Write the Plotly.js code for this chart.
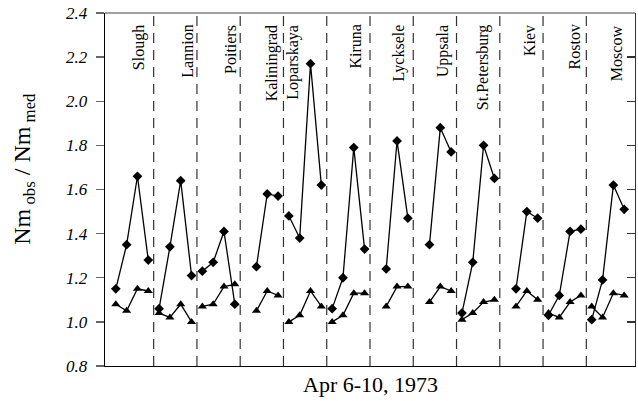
<!DOCTYPE html>
<html><head><meta charset="utf-8">
<script src="https://cdn.plot.ly/plotly-3.0.1.min.js"></script>
<style>html,body{margin:0;padding:0;background:#fff}#chart{width:638px;height:401px}</style>
</head><body><div id="chart"></div>
<script>
// ---- data ----
const stations = ['Slough','Lannion','Poitiers','Kaliningrad','Loparskaya','Kiruna',
                  'Lycksele','Uppsala','St.Petersburg','Kiev','Rostov','Moscow'];
const daysPerStation = 4;
// diamond series (4 values per station, null = missing)
const diamondRatio = [
  1.15,1.35,1.66,1.28,   // Slough
  1.06,1.34,1.64,1.21,   // Lannion
  1.23,1.27,1.41,1.08,   // Poitiers
  null,1.25,1.58,1.57,   // Kaliningrad
  1.48,1.38,2.17,1.62,   // Loparskaya
  1.06,1.20,1.79,1.33,   // Kiruna
  null,1.24,1.82,1.47,   // Lycksele
  null,1.35,1.88,1.77,   // Uppsala
  1.04,1.27,1.80,1.65,   // St.Petersburg
  null,1.15,1.50,1.47,   // Kiev
  1.03,1.12,1.41,1.42,   // Rostov
  1.01,1.19,1.62,1.51    // Moscow
];
// triangle series
const triangleRatio = [
  1.08,1.05,1.15,1.14,
  1.04,1.02,1.08,1.00,
  1.07,1.08,1.16,1.17,
  null,1.05,1.14,1.12,
  1.00,1.03,1.14,1.07,
  1.00,1.03,1.13,1.13,
  null,1.07,1.16,1.16,
  null,1.09,1.16,1.14,
  1.01,1.04,1.09,1.10,
  null,1.07,1.14,1.10,
  1.04,1.02,1.09,1.12,
  1.07,1.02,1.13,1.12
];
const yTickVals = [0.8,1.0,1.2,1.4,1.6,1.8,2.0,2.2,2.4];
const yTickText = ['0.8','1.0','1.2','1.4','1.6','1.8','2.0','2.2','2.4'];
const xTitle = 'Apr 6-10, 1973';
const yTitle = 'Nm<sub> obs</sub> / Nm<sub> med</sub>';

// ---- layout config (positions, not data) ----
const labelOffset = [2.22,2.61,2.61,2.39,0.41,2.18,2.2,2.2,2.02,2.26,2.36,2.36];
const serif = 'Liberation Serif';

function withGaps(vals){
  const xs = [], ys = [];
  for (let g = 0; g < stations.length; g++) {
    for (let k = 0; k < daysPerStation; k++) {
      const i = g*daysPerStation + k;
      xs.push(i); ys.push(vals[i]);
    }
    if (g < stations.length - 1) { xs.push(g*daysPerStation + daysPerStation - 0.5); ys.push(null); }
  }
  return {xs, ys};
}
const d = withGaps(diamondRatio), t = withGaps(triangleRatio);

const traces = [
  {x: d.xs, y: d.ys, type:'scatter', mode:'lines+markers', connectgaps:false,
   line:{color:'#000', width:1.3}, marker:{symbol:'diamond', size:7.5, color:'#000'},
   showlegend:false, hoverinfo:'skip'},
  {x: t.xs, y: t.ys, type:'scatter', mode:'lines+markers', connectgaps:false, yaxis:'y2',
   line:{color:'#000', width:1.3}, marker:{symbol:'triangle-up', size:8, color:'#000'},
   showlegend:false, hoverinfo:'skip'}
];

const shapes = [];
for (let g = 0; g < stations.length - 1; g++) {
  const xs = g*daysPerStation + daysPerStation - 0.5;
  shapes.push({type:'line', xref:'x', yref:'paper', x0:xs, x1:xs, y0:0, y1:1,
               line:{color:'#333', width:1.2, dash:'10px,7px'}});
}
shapes.push({type:'line', xref:'paper', yref:'paper', x0:0, x1:1, y0:1, y1:1,
             line:{color:'#808080', width:1.5}});

const annotations = stations.map((s, g) => ({
  text: s, x: g*daysPerStation + labelOffset[g], xref:'x', y: 0.972, yref:'paper',
  xanchor:'center', yanchor:'top', textangle:-90, showarrow:false,
  font:{family: serif, size:16, color:'#000'}
}));
annotations.push({text: xTitle, xref:'paper', yref:'paper', x:0.5, y:-0.052,
  xanchor:'center', yanchor:'middle', showarrow:false, font:{family:serif, size:22, color:'#000'}});
annotations.push({text: yTitle, xref:'paper', yref:'paper', x:-0.152, y:0.56,
  xanchor:'center', yanchor:'middle', textangle:-90, showarrow:false, font:{family:serif, size:24, color:'#000'}});

const yCommon = {range:[0.8,2.4], tickmode:'array', tickvals:yTickVals, ticktext:yTickText,
  showgrid:false, zeroline:false, fixedrange:true};

const layout = {
  width:638, height:401, margin:{l:105, r:3, t:13, b:35},
  paper_bgcolor:'#fff', plot_bgcolor:'#fff',
  xaxis:{range:[-1,48], showgrid:false, zeroline:false, showticklabels:false, ticks:'',
         showline:true, linecolor:'#000', linewidth:1.3},
  yaxis:Object.assign({}, yCommon, {ticks:'outside', ticklen:8, tickwidth:1.3, tickcolor:'#666',
         showline:true, linecolor:'#000', linewidth:1.3, ticklabelstandoff:5,
         tickfont:{family:serif, size:17, style:'italic', color:'#000'}}),
  yaxis2:Object.assign({}, yCommon, {overlaying:'y', side:'right', ticks:'inside', ticklen:8,
         tickwidth:1.3, tickcolor:'#333', showline:true, linecolor:'#333', linewidth:1.3,
         showticklabels:false}),
  shapes, annotations, showlegend:false
};
Plotly.newPlot('chart', traces, layout, {staticPlot:true, displayModeBar:false});
</script></body></html>
